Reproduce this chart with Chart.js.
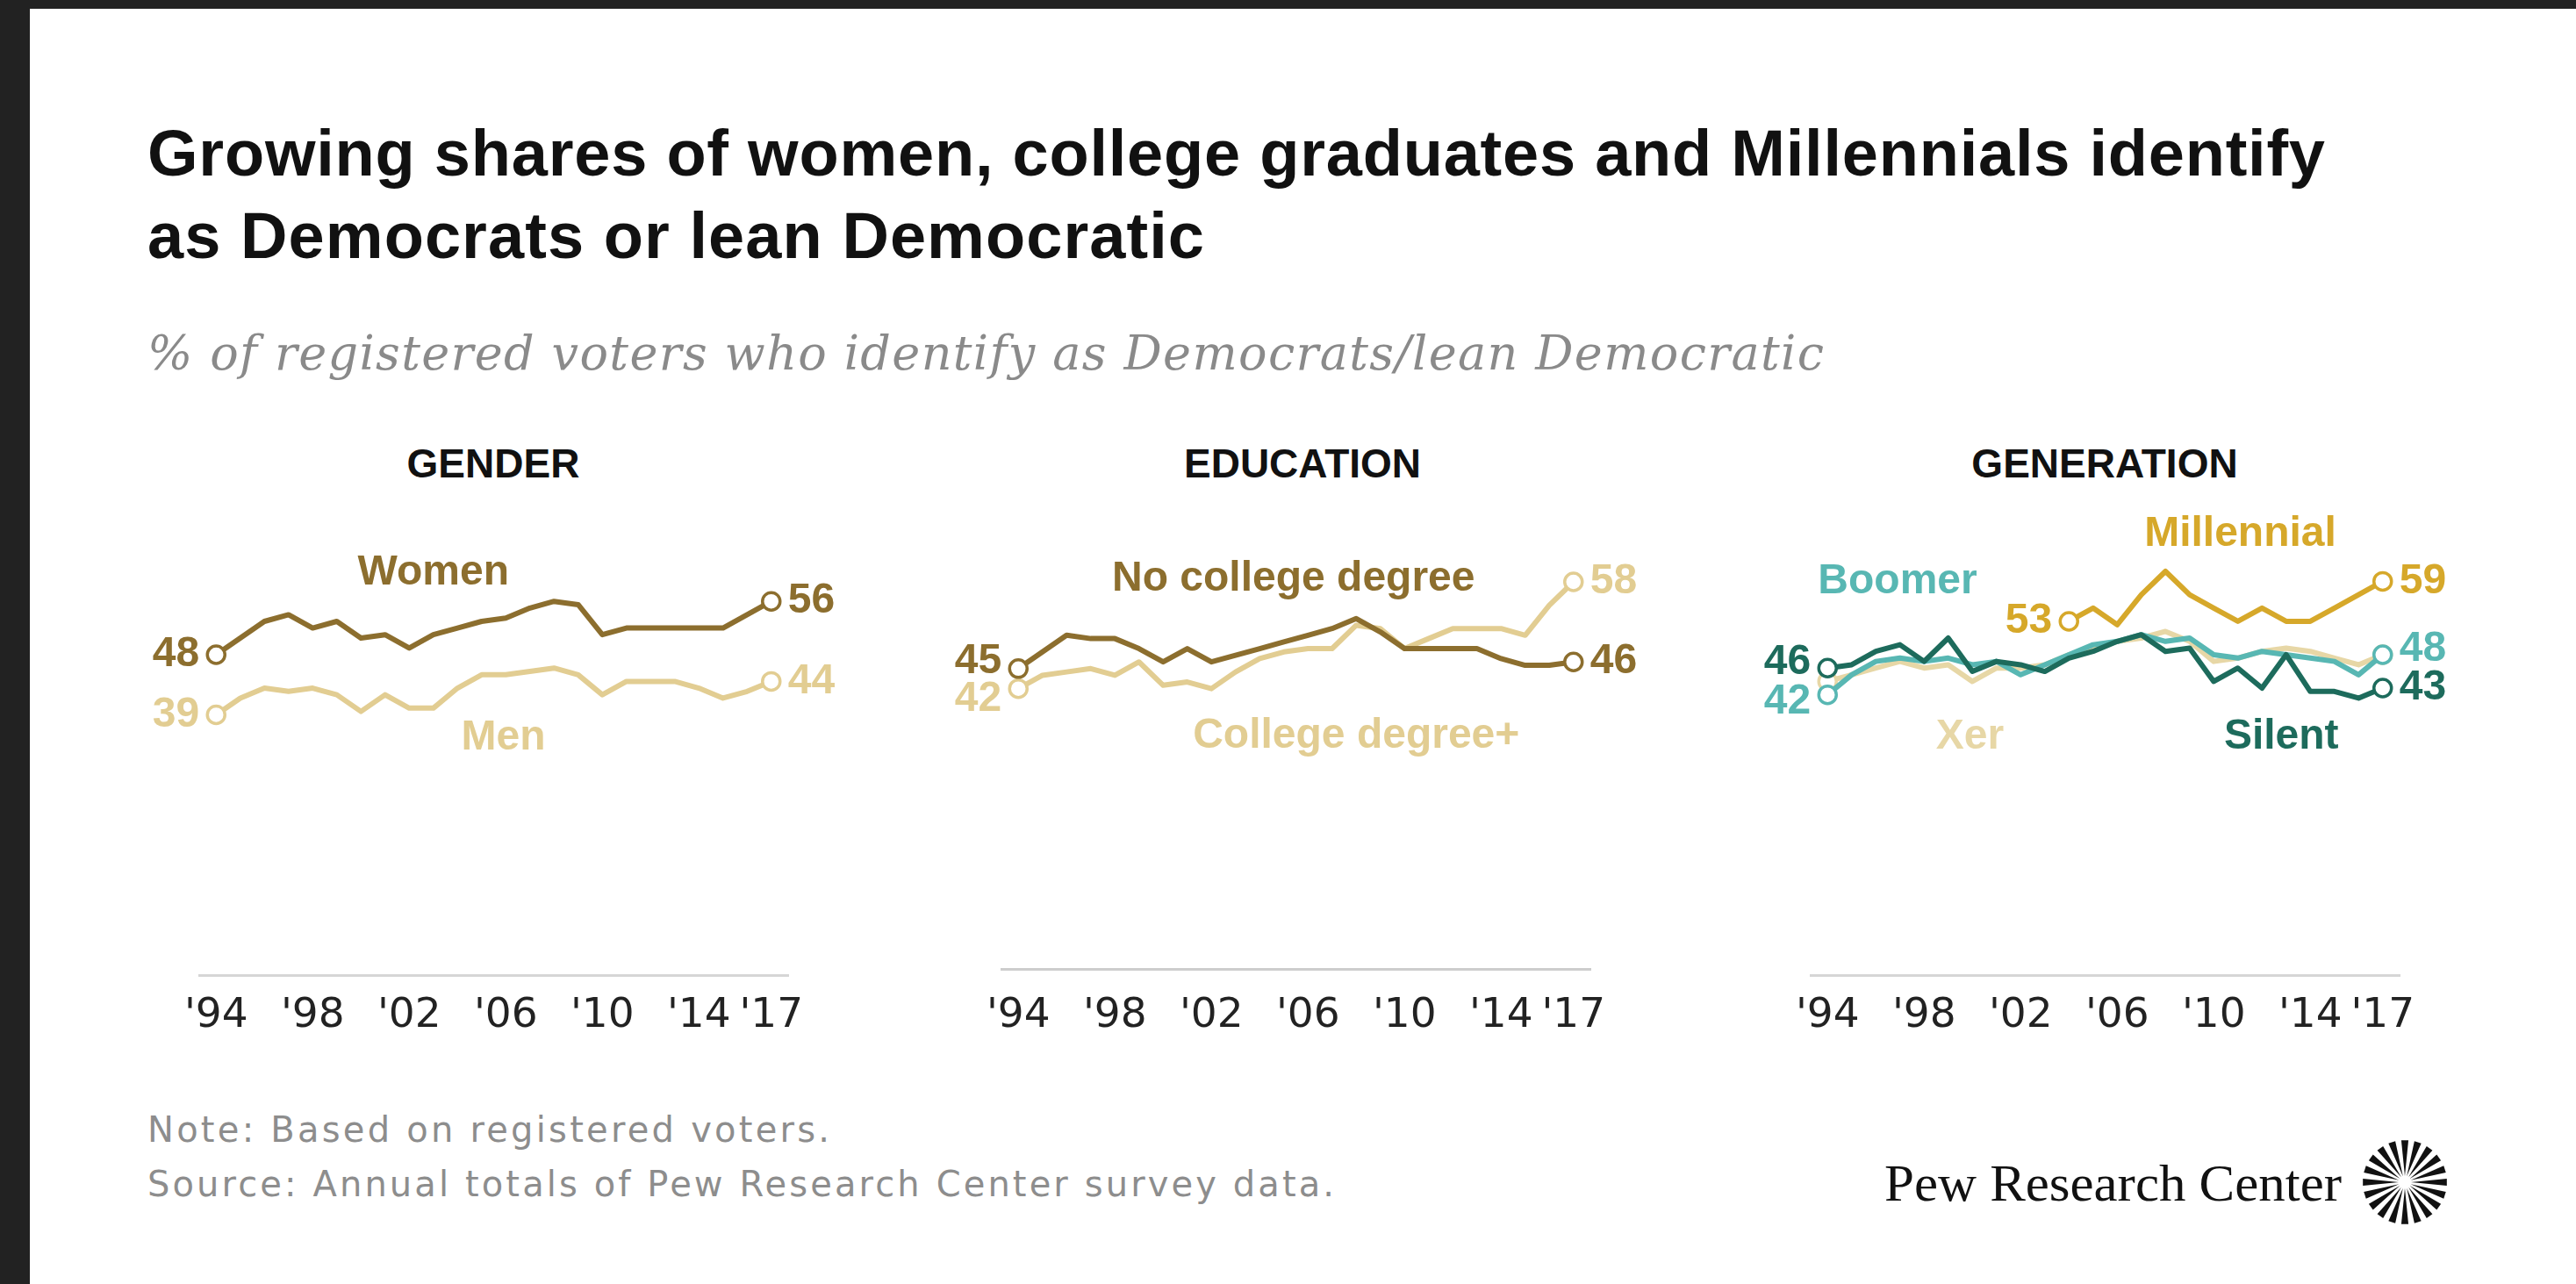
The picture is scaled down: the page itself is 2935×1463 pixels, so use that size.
<!DOCTYPE html>
<html>
<head>
<meta charset="utf-8">
<script src="https://cdn.jsdelivr.net/npm/chart.js@4.4.1/dist/chart.umd.min.js"></script>
<style>
  html, body { margin: 0; padding: 0; background: #fff; }
  body { width: 2935px; height: 1463px; position: relative; overflow: hidden; }
  .frame-top { position: absolute; left: 0; top: 0; width: 2935px; height: 10px; background: #222; }
  .frame-left { position: absolute; left: 0; top: 0; width: 34px; height: 1463px; background: #222; }
  svg.texts { position: absolute; left: 0; top: 0; }
  canvas { position: absolute; }
</style>
</head>
<body>
<div class="frame-top"></div>
<div class="frame-left"></div>

<svg class="texts" width="2935" height="1463">
  <g font-family="'Liberation Sans', Arial, sans-serif" font-weight="bold" fill="#111">
    <text x="168" y="200" font-size="74" textLength="2481" lengthAdjust="spacing">Growing shares of women, college graduates and Millennials identify</text>
    <text x="168" y="294" font-size="74" textLength="1204" lengthAdjust="spacing">as Democrats or lean Democratic</text>
  </g>
  <text x="168" y="421" font-family="'DejaVu Serif', serif" font-style="italic" font-size="54" fill="#8a8a8a" textLength="1910" lengthAdjust="spacing">% of registered voters who identify as Democrats/lean Democratic</text>
  <g font-family="'Liberation Sans', Arial, sans-serif" font-weight="bold" font-size="46" fill="#111" text-anchor="middle">
    <text x="562" y="544">GENDER</text>
    <text x="1484" y="544">EDUCATION</text>
    <text x="2398" y="544">GENERATION</text>
  </g>
  <g font-family="'DejaVu Sans', sans-serif" font-size="40" fill="#8d8d8d">
    <text x="168" y="1301" textLength="777" lengthAdjust="spacing">Note: Based on registered voters.</text>
    <text x="168" y="1363" textLength="1352" lengthAdjust="spacing">Source: Annual totals of Pew Research Center survey data.</text>
  </g>
  <text x="2147" y="1368" font-family="'Liberation Serif', serif" font-size="60" fill="#111" textLength="521" lengthAdjust="spacingAndGlyphs">Pew Research Center</text>
  <g id="burst" fill="#111"></g>
</svg>

<canvas id="genderChart"></canvas>
<canvas id="educationChart"></canvas>
<canvas id="generationChart"></canvas>

<script>
// years on the x axis
const years = [1994, 1995, 1996, 1997, 1998, 1999, 2000, 2001, 2002, 2003, 2004, 2005,
               2006, 2007, 2008, 2009, 2010, 2011, 2012, 2013, 2014, 2015, 2016, 2017];
const millennialYears = [2004, 2005, 2006, 2007, 2008, 2009, 2010, 2011, 2012, 2013, 2014, 2015, 2016, 2017];
const xTicks = [1994, 1998, 2002, 2006, 2010, 2014, 2017];

// gender
const women = [48, 50.5, 53, 54, 52, 53, 50.5, 51, 49, 51, 52, 53, 53.5, 55, 56, 55.5, 51, 52, 52, 52, 52, 52, 54, 56];
const men = [39, 41.5, 43, 42.5, 43, 42, 39.5, 42, 40, 40, 43, 45, 45, 45.5, 46, 45, 42, 44, 44, 44, 43, 41.5, 42.5, 44];

// education
const noCollege = [45, 47.5, 50, 49.5, 49.5, 48, 46, 48, 46, 47, 48, 49, 50, 51, 52.5, 50.5, 48, 48, 48, 48, 46.5, 45.5, 45.5, 46];
const college = [42, 44, 44.5, 45, 44, 46, 42.5, 43, 42, 44.5, 46.5, 47.5, 48, 48, 51.5, 51, 48, 49.5, 51, 51, 51, 50, 54.5, 58];

// generation
const silent = [46, 46.5, 48.5, 49.5, 47, 50.5, 45.5, 47, 46.5, 45.5, 47.5, 48.5, 50, 51, 48.5, 49, 44, 46, 43, 48, 42.5, 42.5, 41.5, 43];
const boomer = [42, 45, 47, 47.5, 47, 47.5, 46.5, 47, 45, 46.5, 48, 49.5, 50, 51, 50, 50.5, 48, 47.5, 48.5, 48, 47.5, 47, 45, 48];
const xer = [44, 45, 46, 47, 46, 46.5, 44, 46, 46, 46.5, 48, 49, 50, 50.5, 51.5, 50, 47, 47.5, 48.5, 49, 48.5, 47.5, 46.5, 48];
const millennial = [53, 55, 52.5, 57, 60.5, 57, 55, 53, 55, 53, 53, 55, 57, 59];

const colors = {
    dark: '#8c6e2e',
    light: '#e2cd92',
    gold: '#d6a82a',
    tealLight: '#58b7b3',
    tealDark: '#1d6b5c',
    tan: '#e7d7a6'
};

const PX_YEAR = 27.5;
const PX_POINT = 7.59;
const AREA_H = 550;
const LABEL_FONT = 'bold 48px "Liberation Sans", Arial, sans-serif';

const toPoints = (xs, ys) => ys.map((v, i) => ({ x: xs[i], y: v }));

function series(label, xs, ys, color, extra) {
    const n = ys.length;
    return Object.assign({
        label: label,
        data: toPoints(xs, ys),
        borderColor: color,
        borderWidth: 6,
        borderJoinStyle: 'round',
        tension: 0,
        clip: false,
        pointRadius: ctx => (ctx.dataIndex === 0 || ctx.dataIndex === n - 1) ? 10 : 0,
        pointBackgroundColor: '#fff',
        pointBorderColor: color,
        pointBorderWidth: 3.5
    }, extra);
}

// draws the start/end values and the series names
const seriesLabels = {
    id: 'seriesLabels',
    afterDatasetsDraw(chart, args, opts) {
        const { ctx } = chart;
        const xs = chart.scales.x, ys = chart.scales.y;
        ctx.save();
        ctx.font = LABEL_FONT;
        ctx.textBaseline = 'middle';
        chart.data.datasets.forEach((ds, i) => {
            const pts = chart.getDatasetMeta(i).data;
            const last = pts.length - 1;
            ctx.fillStyle = ds.borderColor;
            if (ds.startLabel) {
                ctx.textAlign = 'right';
                ctx.fillText(Math.round(ds.data[0].y), pts[0].x - 19, pts[0].y + (ds.startDy || 0));
            }
            if (ds.endLabel) {
                ctx.textAlign = 'left';
                ctx.fillText(Math.round(ds.data[last].y), pts[last].x + 19, pts[last].y + (ds.endDy || 0));
            }
        });
        (opts.names || []).forEach(n => {
            ctx.fillStyle = n.color;
            ctx.textAlign = 'center';
            ctx.fillText(n.text, xs.getPixelForValue(n.x), ys.getPixelForValue(n.y));
        });
        ctx.restore();
    }
};

function makePanel(id, x1994, axisY, tickPad, dash, datasets, names) {
    const padL = 100, padR = 110, padT = 20, padB = 10;
    const areaW = 24.4 * PX_YEAR;
    const canvas = document.getElementById(id);
    canvas.width = padL + areaW + padR;
    canvas.height = padT + AREA_H + 48 + 2 * tickPad + padB;
    canvas.style.left = (x1994 - 0.7 * PX_YEAR - padL) + 'px';
    canvas.style.top = (axisY - AREA_H - padT) + 'px';

    return new Chart(canvas, {
        type: 'line',
        data: { datasets: datasets },
        plugins: [seriesLabels],
        options: {
            responsive: false,
            animation: false,
            devicePixelRatio: 1,
            layout: { padding: { left: padL, right: padR, top: padT, bottom: padB } },
            plugins: {
                legend: { display: false },
                tooltip: { enabled: false },
                seriesLabels: { names: names }
            },
            scales: {
                x: {
                    type: 'linear',
                    min: 1993.3,
                    max: 2017.7,
                    afterBuildTicks: axis => { axis.ticks = xTicks.map(v => ({ value: v })); },
                    grid: { display: false, drawTicks: false },
                    border: { display: true, color: dash.length ? '#d6d6d6' : '#cdcdcd', width: 3, dash: dash },
                    ticks: {
                        autoSkip: false,
                        maxRotation: 0,
                        padding: tickPad,
                        color: '#222',
                        font: { family: '"DejaVu Sans", sans-serif', size: 47, lineHeight: 1 },
                        callback: v => "'" + String(v).slice(2)
                    }
                },
                y: { display: false, min: 0, max: AREA_H / PX_POINT }
            }
        }
    });
}

makePanel('genderChart', 246, 1110, 23, [2, 4], [
    series('Women', years, women, colors.dark, { startLabel: true, endLabel: true }),
    series('Men', years, men, colors.light, { startLabel: true, endLabel: true })
], [
    { text: 'Women', x: 2003.0, y: 60.2, color: colors.dark },
    { text: 'Men', x: 2005.9, y: 35.6, color: colors.light }
]);

makePanel('educationChart', 1160, 1103, 30, [], [
    series('No college degree', years, noCollege, colors.dark, { startLabel: true, endLabel: true, startDy: -8 }),
    series('College degree+', years, college, colors.light, { startLabel: true, endLabel: true, startDy: 12 })
], [
    { text: 'No college degree', x: 2005.4, y: 58.4, color: colors.dark },
    { text: 'College degree+', x: 2008.0, y: 34.9, color: colors.light }
]);

makePanel('generationChart', 2082, 1110, 23, [2, 4], [
    series('Silent', years, silent, colors.tealDark, { startLabel: true, endLabel: true, startDy: -6 }),
    series('Millennial', millennialYears, millennial, colors.gold, { startLabel: true, endLabel: true }),
    series('Boomer', years, boomer, colors.tealLight, { startLabel: true, endLabel: true, startDy: 8, endDy: -6 }),
    series('Xer', years, xer, colors.tan, {})
], [
    { text: 'Boomer', x: 1996.9, y: 58.9, color: colors.tealLight },
    { text: 'Millennial', x: 2011.1, y: 66.1, color: colors.gold },
    { text: 'Xer', x: 1999.9, y: 35.7, color: colors.tan },
    { text: 'Silent', x: 2012.8, y: 35.7, color: colors.tealDark }
]);

// Pew logo burst
const burst = document.getElementById('burst');
const cx = 2740, cy = 1347;
for (let i = 0; i < 20; i++) {
    const a = i * Math.PI * 2 / 20;
    const w = 0.085;
    const r0 = 7, r1 = 48;
    const p = [
        [cx + r0 * Math.cos(a), cy + r0 * Math.sin(a)],
        [cx + r1 * Math.cos(a - w), cy + r1 * Math.sin(a - w)],
        [cx + r1 * Math.cos(a + w), cy + r1 * Math.sin(a + w)]
    ];
    const poly = document.createElementNS('http://www.w3.org/2000/svg', 'polygon');
    poly.setAttribute('points', p.map(q => q.join(',')).join(' '));
    burst.appendChild(poly);
}
</script>
</body>
</html>
